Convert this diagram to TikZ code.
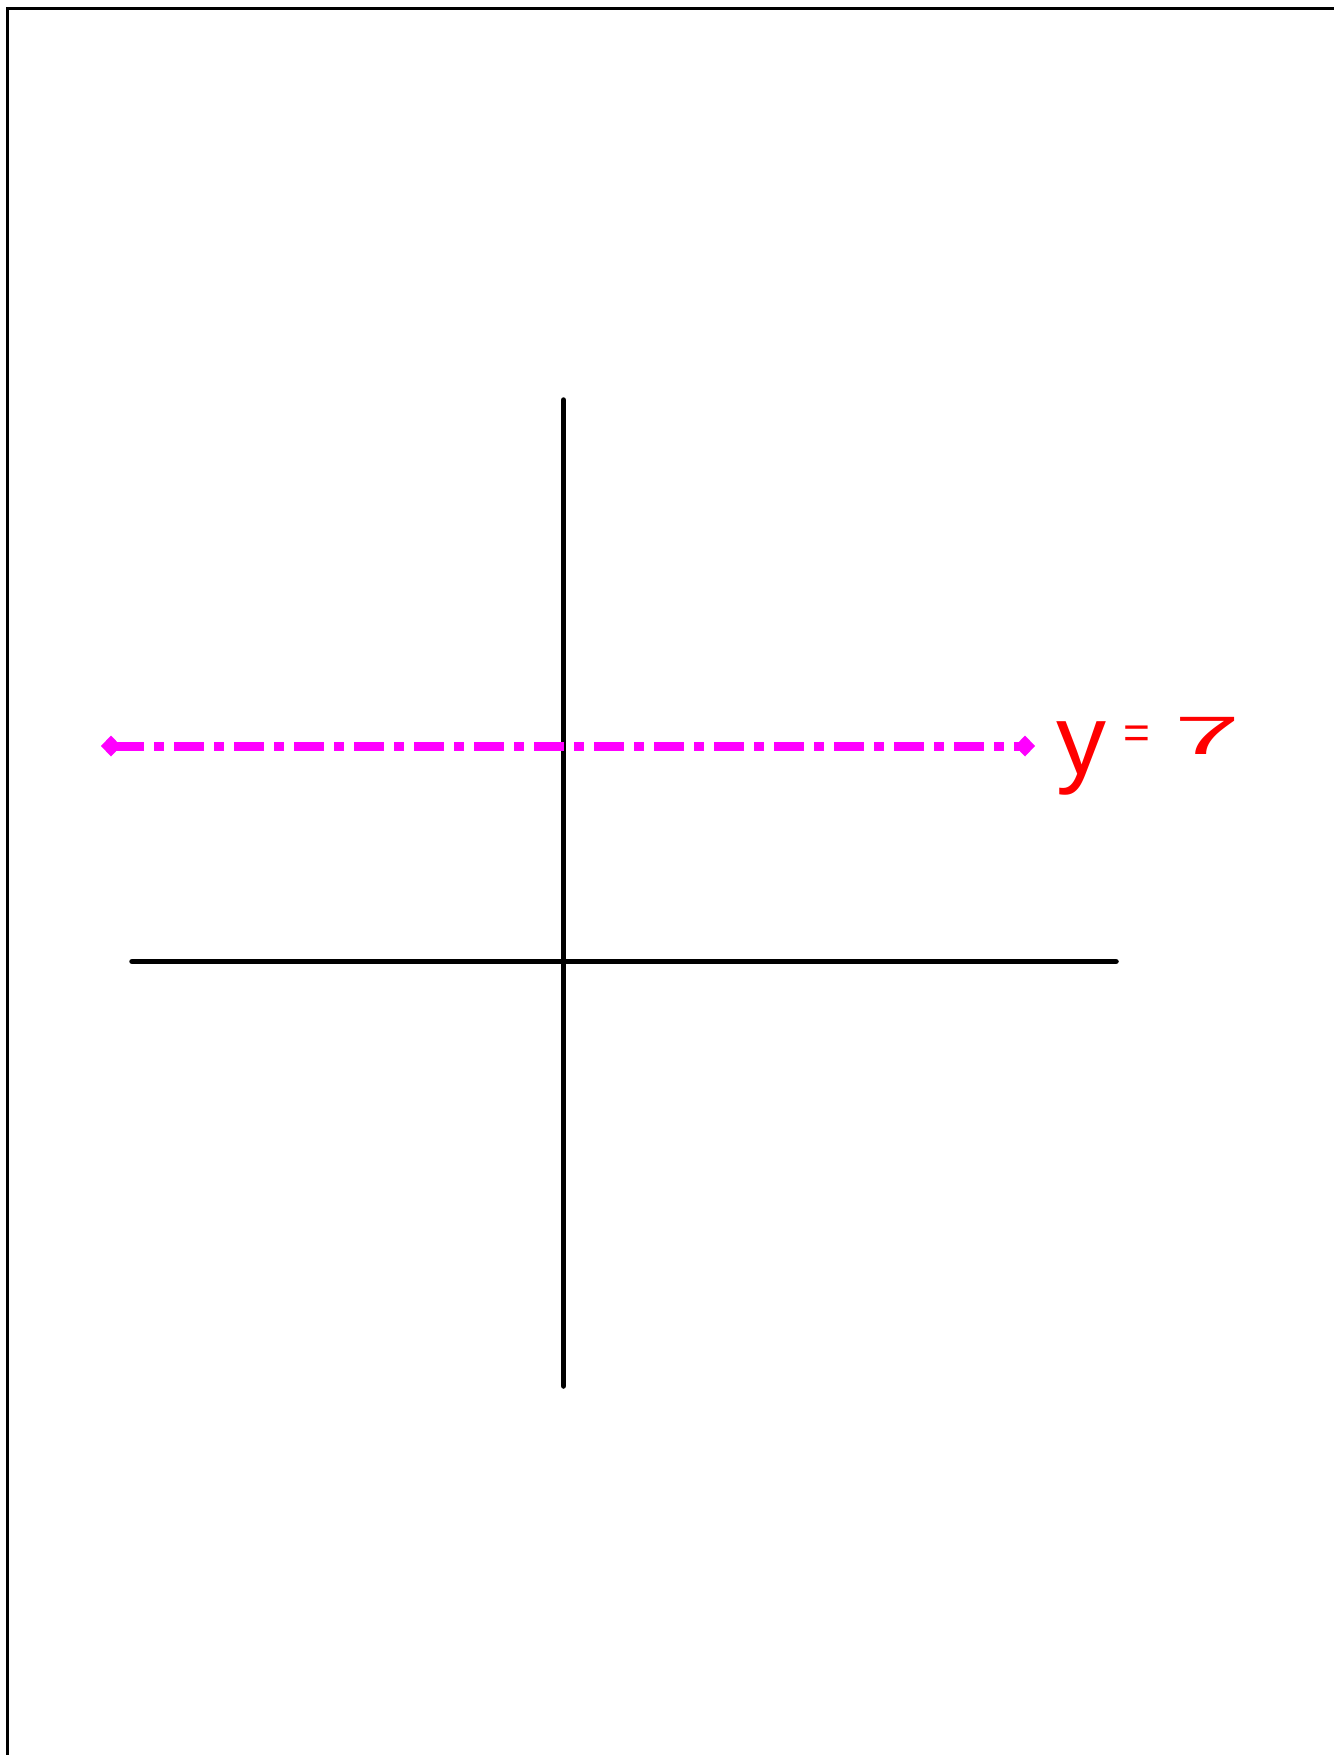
\documentclass[tikz,border=0pt]{standalone}
\usepackage{fontspec}
\setmainfont{Liberation Sans}
\usetikzlibrary{arrows.meta}
\definecolor{lineMagenta}{RGB}{255,0,255}
\definecolor{labelRed}{RGB}{255,0,0}
\begin{document}
\begin{tikzpicture}[x=1pt,y=-1pt,
  axis/.style={line width=5.5pt, line cap=round, black},
  frameline/.style={line width=3pt, black},
  graphline/.style={line width=9pt, lineMagenta, dash pattern=on 30pt off 10pt on 10pt off 10pt,
     {Diamond[length=20pt,width=21pt,sep=0pt]}-{Diamond[length=20pt,width=21pt]}},
  eqlabel/.style={text=labelRed, inner sep=0pt, anchor=base west}]
\useasboundingbox (0,0) rectangle (1333,1755);
% frame
\coordinate (fbl) at (7,1760);
\coordinate (ftl) at (7,9);
\coordinate (ftr) at (1340,9);
\draw[frameline] (fbl) -- (ftl) -- (ftr);
% axes
\coordinate (ytop) at (563.5,400);
\coordinate (ybot) at (563.5,1386);
\coordinate (xl) at (132,961.5);
\coordinate (xr) at (1116,961.5);
\draw[axis] (ytop) -- (ybot);
\draw[axis] (xl) -- (xr);
% horizontal line y=7
\coordinate (gl) at (101,746);
\coordinate (gr) at (1035,746);
\draw[graphline] (gl) -- (gr);
% label
\node[eqlabel] (lab) at (1056,774) {{\fontsize{100}{100}\selectfont y}\hspace{17pt}\raisebox{26pt}{\fontsize{46}{46}\selectfont =}\hspace{24pt}\raisebox{20pt}{\scalebox{2.2}[1]{\fontsize{54}{54}\selectfont 7}}};
\end{tikzpicture}
\end{document}
